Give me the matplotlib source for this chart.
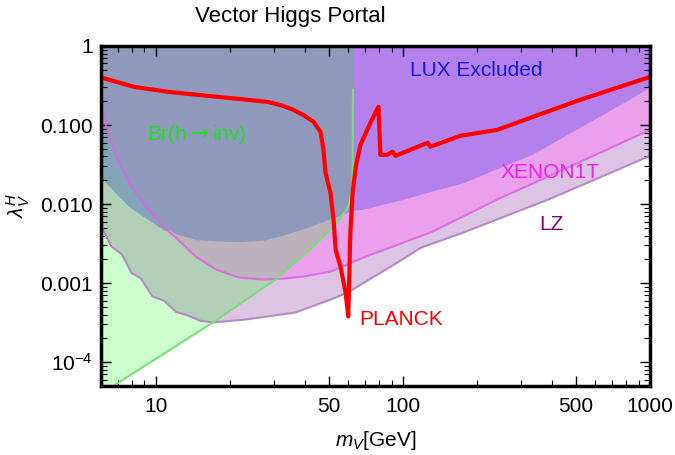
import matplotlib.pyplot as plt
import numpy as np

plt.rcParams['font.family'] = 'Liberation Sans'
plt.rcParams['mathtext.fontset'] = 'custom'
plt.rcParams['mathtext.rm'] = 'Liberation Sans'
plt.rcParams['mathtext.it'] = 'Liberation Sans:italic'

# direct detection limits (LUX, XENON1T) on a shared mass grid [GeV]
m_dd = np.array([6, 6.5, 7, 7.8, 9, 10.7, 12, 14.5, 17.5, 21.6, 27, 33, 40, 51,
                 62.5, 70, 95, 130, 175, 240, 330, 600, 1000])
lux = np.array([0.0215, 0.0166, 0.0130, 0.0093, 0.0068, 0.00475, 0.00425, 0.00356,
                0.00342, 0.00335, 0.00347, 0.00406, 0.00493, 0.00655, 0.0083, 0.0087,
                0.011, 0.0145, 0.0186, 0.028, 0.042, 0.12, 0.30])
xenon = np.array([0.17, 0.07, 0.036, 0.0185, 0.0097, 0.00519, 0.00381, 0.00217,
                  0.00149, 0.00118, 0.00111, 0.00114, 0.00122, 0.0014, 0.00184, 0.00214,
                  0.00305, 0.0044, 0.00697, 0.0114, 0.0178, 0.0418, 0.0869])

# LZ projection
m_lz = np.array([6.0, 6.62, 7.3, 7.97, 8.7, 9.69, 10.8, 12.1, 13.5, 15.1, 17.0, 23.1,
                 36.8, 50.9, 59.7, 95, 118, 175, 387, 1000])
lz = np.array([5.3e-3, 2.9e-3, 2.3e-3, 1.35e-3, 1.15e-3, 6.8e-4, 6.0e-4, 4.3e-4,
               3.9e-4, 3.35e-4, 3.18e-4, 3.47e-4, 4.26e-4, 6.2e-4, 7.6e-4, 1.82e-3,
               2.8e-3, 4.35e-3, 1.14e-2, 4.08e-2])

# Br(h -> inv) bound
m_br = np.array([6.0, 6.89, 17.0, 30.5, 43.4, 54.3, 60.2, 62.6, 62.8, 62.8])
br = np.array([4.0e-5, 5.25e-5, 3.18e-4, 1.11e-3, 2.9e-3, 5.8e-3, 9.3e-3, 1.66e-2, 0.28, 1.0])

# PLANCK relic density
m_planck = np.array([6.0, 8.15, 11.2, 17.8, 22.0, 28.4, 32.5, 36.1, 39.5, 43.5, 46.4,
                     47.7, 48.6, 50.9, 52.4, 53.4, 55.9, 58.6, 60.1, 60.6, 61.2, 62.6,
                     64.5, 67.3, 73.9, 79.6, 81.1, 86.5, 90.7, 93.3, 126, 129, 171, 241,
                     327, 521, 1000])
planck = np.array([0.40, 0.304, 0.263, 0.227, 0.213, 0.196, 0.176, 0.155, 0.134, 0.110,
                   0.082, 0.0486, 0.0249, 0.0139, 0.00635, 0.00266, 0.00162, 7.6e-4,
                   3.8e-4, 1.0e-3, 4.0e-3, 0.0139, 0.030, 0.056, 0.107, 0.170, 0.042,
                   0.042, 0.0459, 0.0408, 0.0596, 0.0531, 0.0731, 0.0869, 0.123, 0.208,
                   0.406])

xticks = [10, 50, 100, 500, 1000]
xticklabels = ['10', '50', '100', '500', '1000']
yticks = [1e-4, 1e-3, 1e-2, 1e-1, 1]
yticklabels = [r'$10^{-4}$', '0.001', '0.010', '0.100', '1']

fig = plt.figure(figsize=(6.75, 4.55), dpi=100)
ax = fig.add_axes([0.1496, 0.1516, 0.8134, 0.7474])
ax.set_xscale('log')
ax.set_yscale('log')

ax.fill_between(m_lz, lz, 1, color='#dec4e4', lw=0)
ax.fill_between(m_dd, xenon, 1, color='#eba0eb', lw=0)
ax.fill_between(m_dd, lux, xenon, where=xenon > lux, interpolate=True, color='#a28ee7', lw=0)
ax.fill_between(m_dd, np.maximum(lux, xenon), 1, color='#b480eb', lw=0)
ax.plot(m_lz, lz, color='#b48cc4', lw=1.5)
ax.plot(m_dd, xenon, color='#e060e6', lw=1.5, alpha=0.8)

ax.fill_between(m_br, br, 1, color='#00ff00', alpha=0.2, lw=0)
ax.plot(m_br[:-1], br[:-1], color='#78e078', lw=1.5)

ax.plot(m_planck, planck, color='#ff0000', lw=3)

ax.set_xlim(6, 1000)
ax.set_ylim(5e-5, 1)
ax.set_xticks(xticks)
ax.set_xticklabels(xticklabels)
ax.set_yticks(yticks)
ax.set_yticklabels(yticklabels)
ax.tick_params(which='both', direction='in', top=True, right=True, labelsize=15)
ax.tick_params(which='major', length=7, width=1)
ax.tick_params(which='minor', length=4, width=0.8)
ax.tick_params(axis='x', pad=8)
ax.tick_params(axis='y', pad=6)
for s in ax.spines.values():
    s.set_linewidth(2.5)

ax.text(0.683, 0.929, 'LUX Excluded', color='#1515ee', fontsize=15,
        ha='center', va='center', transform=ax.transAxes)
ax.text(0.175, 0.741, r'Br(h$\rightarrow$inv)', color='#22dd22', fontsize=15,
        ha='center', va='center', transform=ax.transAxes, math_fontfamily='dejavusans')
ax.text(0.818, 0.629, 'XENON1T', color='#f020f0', fontsize=15,
        ha='center', va='center', transform=ax.transAxes)
ax.text(0.821, 0.474, 'LZ', color='#800080', fontsize=15,
        ha='center', va='center', transform=ax.transAxes)
ax.text(0.546, 0.197, 'PLANCK', color='#ff0000', fontsize=15,
        ha='center', va='center', transform=ax.transAxes)

ax.set_xlabel(r'$m_V$[GeV]', fontsize=15)
ax.xaxis.set_label_coords(0.5, -0.125)
ax.set_ylabel(r'$\lambda_V^H$', fontsize=15)
ax.yaxis.set_label_coords(-0.125, 0.53)
fig.text(0.43, 0.963, 'Vector Higgs Portal', fontsize=16, ha='center', va='center')

plt.savefig('out.png', dpi=100)
